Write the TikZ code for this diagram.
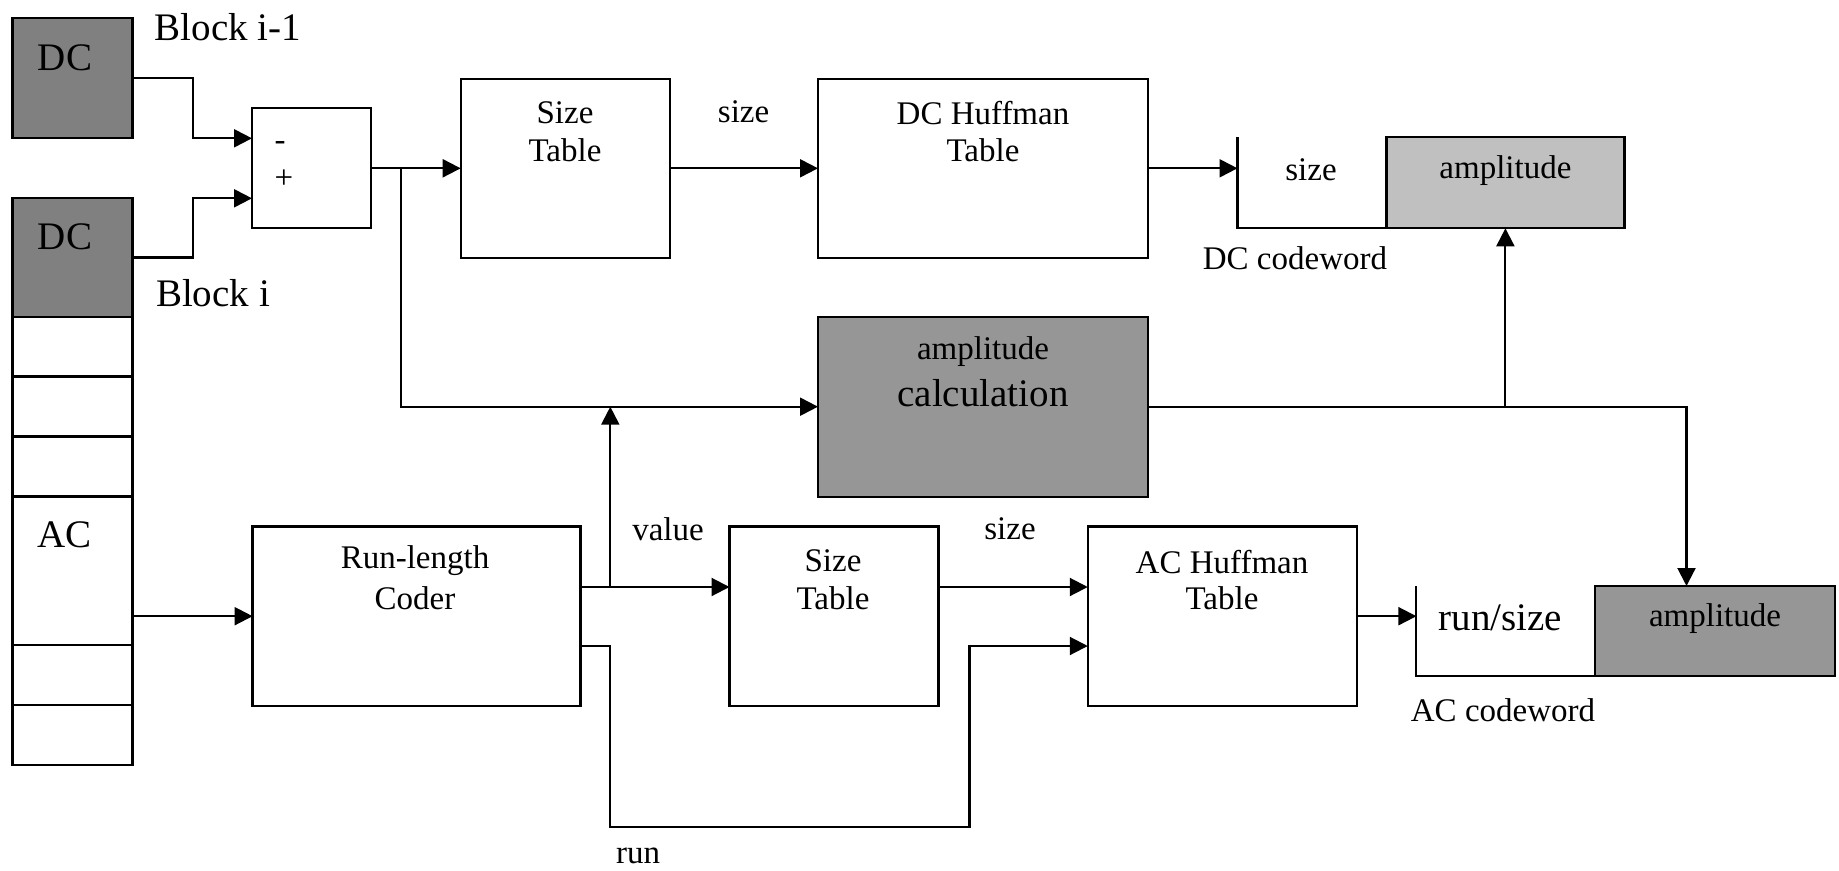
\documentclass[tikz,border=0pt]{standalone}
\usepackage{fontspec}
\setmainfont{Liberation Serif}
\usetikzlibrary{arrows.meta}
\definecolor{dcgray}{HTML}{808080}
\definecolor{calcgray}{HTML}{969696}
\definecolor{lightgray}{HTML}{C0C0C0}
\begin{document}
\begin{tikzpicture}[x=1pt,y=-1pt,
  box/.style={draw, line width=2.3pt, inner sep=0pt, outer sep=0pt, rectangle},
  wire/.style={line width=2.1pt},
  arr/.style={line width=2.1pt, -{Triangle[length=18pt,width=18pt]}},
  big/.style={font=\fontsize{39}{44}\selectfont, inner sep=0pt},
  norm/.style={font=\fontsize{33}{38}\selectfont, inner sep=0pt}]
\path[use as bounding box] (0,0) rectangle (1839,870);

% left column
\node[box, fill=dcgray, minimum width=120pt, minimum height=120pt] (dc1) at (72.5,78.3) {};
\node[box, fill=dcgray, minimum width=120pt, minimum height=118.4pt] (dc2) at (72.5,257.5) {};
\node[box, minimum width=120pt, minimum height=59.8pt] (c1) at (72.5,346.6) {};
\node[box, minimum width=120pt, minimum height=59.9pt] (c2) at (72.5,406.45) {};
\node[box, minimum width=120pt, minimum height=60.1pt] (c3) at (72.5,466.45) {};
\node[box, minimum width=120pt, minimum height=148.2pt] (accell) at (72.5,570.6) {};
\node[box, minimum width=120pt, minimum height=60pt] (c5) at (72.5,674.7) {};
\node[box, minimum width=120pt, minimum height=60pt] (c6) at (72.5,734.7) {};
\node[big] (tdc1) at (65,58) {DC};
\node[big] (tdc2) at (65,237) {DC};
\node[big] (tac) at (64.5,535) {AC};
\node[big] (tb1) at (228,27) {Block i-1};
\node[big] (tb2) at (213,293) {Block i};

% subtractor
\node[box, minimum width=119pt, minimum height=120pt] (sub) at (311.5,168.3) {};
\node[norm] (tminus) at (280,145.7) {-};
\node[norm] (tplus) at (284,179) {+};

% top size table
\node[box, minimum width=209pt, minimum height=178.7pt] (st1) at (565.2,168.3) {};
\node[norm] (tst1a) at (565,113) {Size};
\node[norm] (tst1b) at (565,150) {Table};
\node[norm] (tsize1) at (743.6,111.7) {size};

% DC Huffman
\node[box, minimum width=330pt, minimum height=178.7pt] (dch) at (983,168.3) {};
\node[norm] (tdcha) at (983,113.3) {DC Huffman};
\node[norm] (tdchb) at (983,150) {Table};

% DC codeword
\node[box, fill=lightgray, minimum width=238pt, minimum height=91pt] (dcamp) at (1505.4,182.8) {};
\coordinate (dcl1) at (1237.5,137.3);
\coordinate (dcl2) at (1237.5,228.3);
\draw[wire] (dcl1) -- (dcl2) -- (dcamp.south west);
\node[norm] (tdcsize) at (1311,170) {size};
\node[norm] (tdcamp) at (1505.4,171) {amplitude};
\node[norm] (tdccw) at (1295,258.3) {DC codeword};

% amplitude calculation
\node[box, fill=calcgray, minimum width=330pt, minimum height=180pt] (amp) at (983,406.7) {};
\node[norm] (tampa) at (983,351.7) {amplitude};
\node[big] (tampb) at (983,393.3) {calculation};

% run-length coder
\node[box, minimum width=328pt, minimum height=179.3pt] (rl) at (416.6,616.2) {};
\node[norm] (trla) at (415,561) {Run-length};
\node[norm] (trlb) at (415,598) {Coder};

% bottom size table
\node[box, minimum width=209pt, minimum height=179.3pt] (st2) at (834,616.2) {};
\node[norm] (tst2a) at (833,561) {Size};
\node[norm] (tst2b) at (833,598) {Table};
\node[norm] (tvalue) at (668,529) {value};
\node[norm] (tsize2) at (1010,529) {size};
\node[norm] (trun) at (638,856) {run};

% AC Huffman
\node[box, minimum width=269.3pt, minimum height=179.3pt] (ach) at (1222.4,616.2) {};
\node[norm] (tacha) at (1222,561.7) {AC Huffman};
\node[norm] (tachb) at (1222,598) {Table};

% AC codeword
\node[box, fill=calcgray, minimum width=240pt, minimum height=90pt] (acamp) at (1715,631) {};
\coordinate (acl1) at (1416.4,586);
\coordinate (acl2) at (1416.4,676);
\draw[wire] (acl1) -- (acl2) -- (acamp.south west);
\node[big] (tacrs) at (1500.4,618) {run/size};
\node[norm] (tacamp) at (1715,619) {amplitude};
\node[norm] (taccw) at (1503,710) {AC codeword};

% connectors
\coordinate (in1) at (sub.west |- 0,138.3);
\coordinate (in2) at (sub.west |- 0,198.3);
\coordinate (e1) at (193,138.3);
\coordinate (e2) at (193,198.3);
\draw[arr] (dc1.east) -| (e1) -- (in1);
\draw[arr] (dc2.east) -| (e2) -- (in2);
\draw[arr] (sub.east) -- (st1.west);
\coordinate (b1) at (401,168.3);
\draw[arr] (b1) |- (amp.west);
\draw[arr] (st1.east) -- (dch.west);
\coordinate (dcin) at (1237.5,168.3);
\draw[arr] (dch.east) -- (dcin);
\coordinate (acin) at (1686.5,586);
\draw[arr] (amp.east) -| (acin);
\coordinate (b2) at (dcamp.south |- amp.east);
\draw[arr] (b2) -- (dcamp.south);
\draw[arr] (rl.west -| accell.east) -- (rl.west);
\coordinate (rlo) at (rl.east |- 0,587);
\draw[arr] (rlo) -- (rlo -| st2.west);
\coordinate (b3) at (610.3,587);
\coordinate (b3t) at (610.3,406.7);
\draw[arr] (b3) -- (b3t);
\draw[arr] (st2.east |- rlo) -- (ach.west |- rlo);
\coordinate (rlr) at (rl.east |- 0,646);
\coordinate (r1) at (610.3,826.6);
\coordinate (r2) at (969.5,646);
\draw[arr] (rlr) -| (r1) -| (r2) -- (ach.west |- rlr);
\coordinate (acw) at (acl1 |- ach.east);
\draw[arr] (ach.east) -- (acw);
\end{tikzpicture}
\end{document}
